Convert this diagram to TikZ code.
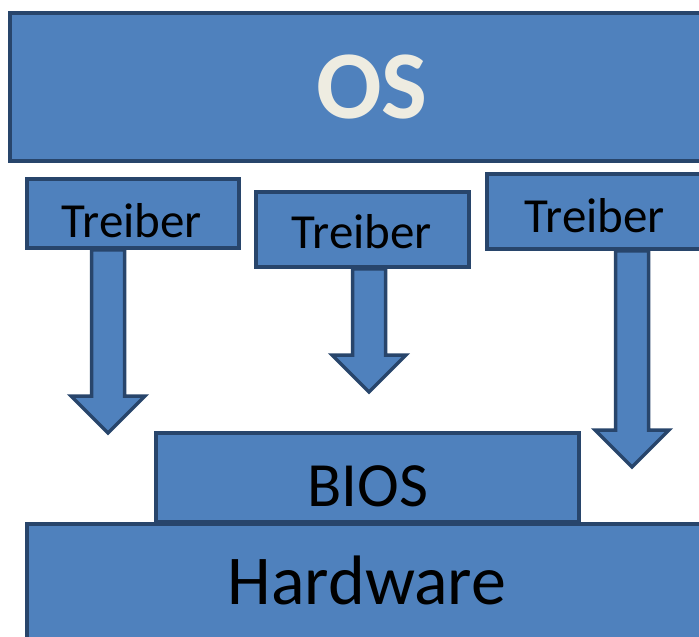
\documentclass[tikz,border=0pt]{standalone}
\usepackage{fontspec}
\setmainfont{Carlito}
\usetikzlibrary{calc}

\definecolor{boxblau}{HTML}{4F81BD}
\definecolor{randblau}{HTML}{28456B}
\definecolor{oscreme}{HTML}{EEECE1}

\tikzset{
  kasten/.style={draw=randblau, fill=boxblau, line width=3.5pt, inner sep=0pt},
  pfeil/.style={draw=randblau, fill=boxblau, line width=3.5pt, line join=miter},
  schrift/.style={inner sep=0pt, anchor=base}
}

% block arrow from the bottom of a box down to a tip coordinate
\newcommand{\treiberpfeil}[2]{%
  \draw [pfeil] ($(#1.south -| #2)+(-16.5,0)$) -- ($(#2)+(-16.5,-37)$) -- ($(#2)+(-37,-37)$)
    -- (#2) -- ($(#2)+(37,-37)$) -- ($(#2)+(16.5,-37)$) -- ($(#1.south -| #2)+(16.5,0)$) -- cycle;}

\begin{document}
\begin{tikzpicture}[x=1pt, y=-1pt]
            \useasboundingbox (0,0) rectangle (699,637);
            \clip (0,0) rectangle (699,637);

            \node [kasten, minimum width=720pt, minimum height=148pt] (os) at (370,87) {};
            \node [kasten, minimum width=212pt, minimum height=69pt] (t1) at (133,213.5) {};
            \node [kasten, minimum width=213pt, minimum height=75pt] (t2) at (362.5,229.5) {};
            \node [kasten, minimum width=233pt, minimum height=75pt] (t3) at (603.5,211.5) {};

            \node [schrift, text=oscreme, font=\fontsize{97}{100}\selectfont\bfseries] (ostext) at (372,118) {OS};
            \node [schrift, font=\fontsize{49}{50}\selectfont] (t1text) at (132,237) {Treiber};
            \node [schrift, font=\fontsize{49}{50}\selectfont] (t2text) at (362,248) {Treiber};
            \node [schrift, font=\fontsize{49}{50}\selectfont] (t3text) at (595,232) {Treiber};

            \coordinate (p1) at (108,433);
            \coordinate (p2) at (369,392);
            \coordinate (p3) at (632,467);
            \treiberpfeil{t1}{p1}
            \treiberpfeil{t2}{p2}
            \treiberpfeil{t3}{p3}

            \node [kasten, minimum width=423pt, minimum height=89pt] (bios) at (367.5,477.5) {};
            \node [kasten, minimum width=692pt, minimum height=176pt] (hw) at (373,612) {};

            \node [schrift, font=\fontsize{63}{66}\selectfont] (biostext) at (368,506) {BIOS};
            \node [schrift, font=\fontsize{70}{72}\selectfont] (hwtext) at (367,604) {Hardware};
        \end{tikzpicture}
\end{document}
